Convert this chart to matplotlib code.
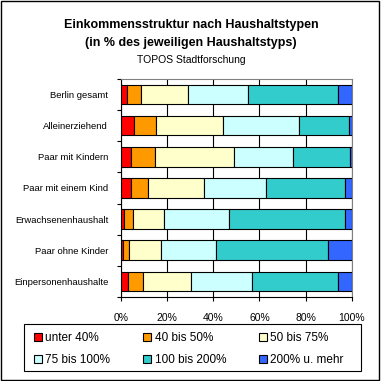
import matplotlib.pyplot as plt
from matplotlib.patches import Patch, Rectangle

plt.rcParams['font.family'] = ['Liberation Sans', 'DejaVu Sans']

categories = ['Berlin gesamt', 'Alleinerziehend', 'Paar mit Kindern',
              'Paar mit einem Kind', 'Erwachsenenhaushalt', 'Paar ohne Kinder',
              'Einpersonenhaushalte']
series_names = ['unter 40%', '40 bis 50%', '50 bis 75%',
                '75 bis 100%', '100 bis 200%', '200% u. mehr']
colors = ['#FF0000', '#FF9900', '#FFFFCC', '#CCFFFF', '#33CCCC', '#3366FF']

# share in % per income class, one list per household type (same order as categories)
unter_40 = [2.9, 5.8, 4.6, 4.6, 1.4, 1.2, 3.3]
b40_50 = [6.0, 9.6, 10.4, 7.3, 4.1, 2.5, 6.5]
b50_75 = [20.3, 28.9, 34.1, 24.2, 13.3, 13.9, 20.7]
b75_100 = [25.9, 32.8, 25.4, 26.8, 28.1, 23.7, 26.3]
b100_200 = [39.0, 21.6, 24.6, 34.1, 50.1, 48.3, 37.2]
ab_200 = [5.9, 1.3, 0.9, 3.0, 3.0, 10.4, 6.0]
series = [unter_40, b40_50, b50_75, b75_100, b100_200, ab_200]

xticks = [0, 20, 40, 60, 80, 100]
xticklabels = ['0%', '20%', '40%', '60%', '80%', '100%']

fig = plt.figure(figsize=(3.81, 3.81), dpi=100)
ax = fig.add_axes([0.3168, 0.2213, 0.6071, 0.5706])

ypos = list(range(len(categories)))
left = [0] * len(categories)
for vals, col, name in zip(series, colors, series_names):
    ax.barh(ypos, vals, left=left, height=0.62, color=col,
            edgecolor='black', linewidth=0.8, label=name, zorder=3)
    left = [a + b for a, b in zip(left, vals)]

ax.set_xlim(0, 100)
ax.set_ylim(len(categories) - 0.5, -0.5)
ax.set_xticks(xticks)
ax.set_xticklabels(xticklabels, fontsize=7.5)
ax.set_yticks(ypos)
ax.set_yticklabels(categories, fontsize=6.8)
ax.tick_params(axis='y', length=0, pad=9)
ax.set_yticks([i + 0.5 for i in range(-1, len(categories))], minor=True)
ax.tick_params(axis='y', which='minor', length=3, width=0.8)
ax.tick_params(axis='x', length=3, width=0.8, pad=9)

ax.grid(axis='x', color='black', linewidth=0.8, zorder=0)
ax.set_axisbelow(True)
ax.spines['left'].set_color('black')
ax.spines['bottom'].set_color('black')
ax.spines['top'].set_color('#808080')
ax.spines['right'].set_color('#808080')
for s in ax.spines.values():
    s.set_linewidth(0.8)

fig.text(0.503, 0.934, 'Einkommensstruktur nach Haushaltstypen', ha='center',
         va='center', fontsize=9, fontweight='bold')
fig.text(0.5, 0.887, '(in % des jeweiligen Haushaltstyps)', ha='center',
         va='center', fontsize=9, fontweight='bold')
fig.text(0.502, 0.843, 'TOPOS Stadtforschung', ha='center', va='center',
         fontsize=7.5)

# legend fills row by row in the reference: reorder for matplotlib's column filling
order = [0, 3, 1, 4, 2, 5]
handles = [Patch(facecolor=colors[i], edgecolor='black', linewidth=0.8) for i in order]
labels = [series_names[i] for i in order]
leg = fig.legend(handles, labels, loc='upper left',
                 bbox_to_anchor=(0.088, 0.129), ncol=3, fontsize=8.5,
                 frameon=False, handlelength=0.7, handleheight=0.7,
                 handletextpad=0.3, borderaxespad=0, borderpad=0,
                 labelspacing=0.9, columnspacing=2.75)

# legend box drawn separately so its size matches the reference
fig.patches.append(Rectangle((0.063, 0.0262), 0.8845, 0.1234, transform=fig.transFigure,
                             fill=False, edgecolor='black', linewidth=0.8))

fig.patches.append(Rectangle((0.002, 0.003), 0.994, 0.994, transform=fig.transFigure,
                             fill=False, edgecolor='black', linewidth=1))

fig.savefig('out.png', dpi=100)
